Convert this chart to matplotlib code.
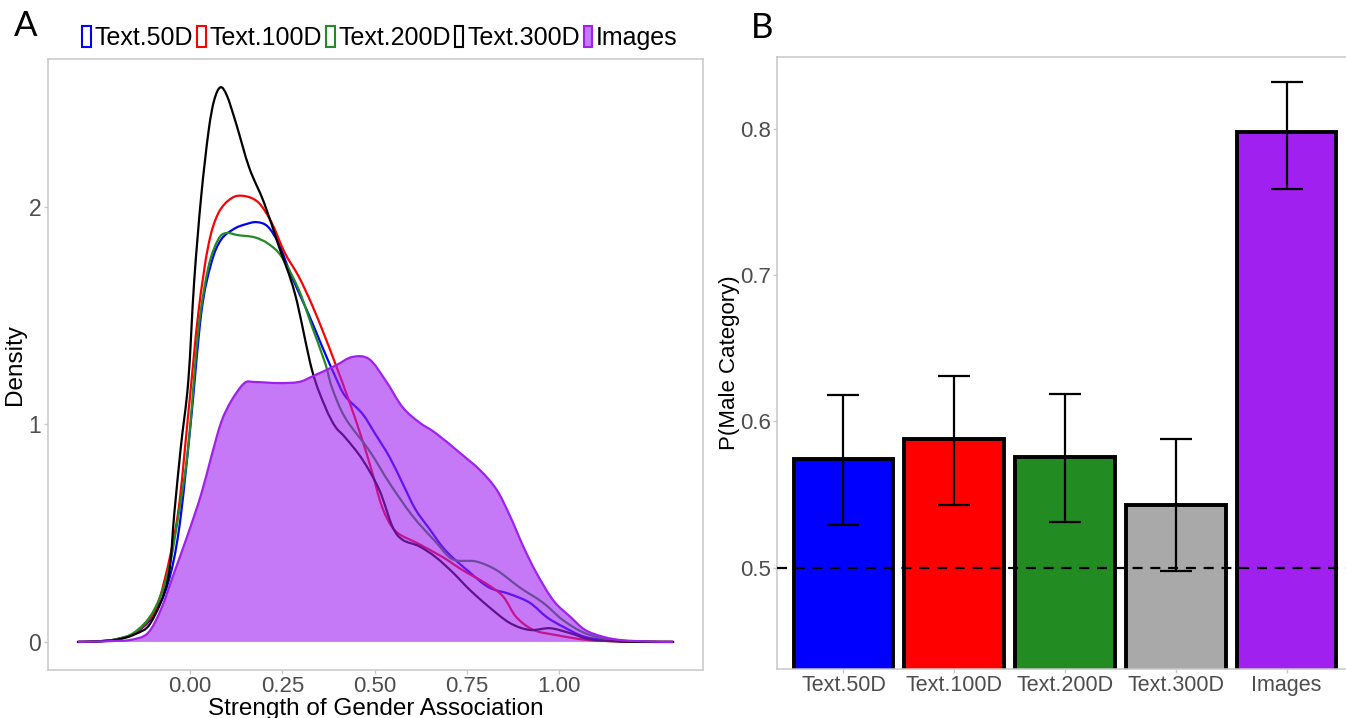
import matplotlib
matplotlib.use("Agg")
import matplotlib.pyplot as plt
from matplotlib.patches import Patch, PathPatch
from matplotlib.path import Path

plt.rcParams['font.family'] = ['Liberation Sans', 'DejaVu Sans']

# ---------------- Panel A data (density curves) ----------------
series_names = ["Text.50D", "Text.100D", "Text.200D", "Text.300D", "Images"]
series_colors = ["#0000FF", "#FF0000", "#228B22", "#000000", "#A020F0"]

x_50 = [-0.304, -0.25, -0.2, -0.15, -0.1, -0.06, -0.03, 0.0, 0.03, 0.057, 0.084, 0.12, 0.15,
        0.18, 0.21, 0.24, 0.275, 0.32, 0.357, 0.393, 0.42, 0.466, 0.5, 0.54, 0.575, 0.61,
        0.648, 0.692, 0.757, 0.81, 0.866, 0.92, 0.965, 1.01, 1.07, 1.15, 1.22, 1.308]
y_50 = [0, 0.003, 0.012, 0.04, 0.12, 0.27, 0.52, 0.98, 1.51, 1.74, 1.85, 1.90, 1.92,
        1.93, 1.91, 1.83, 1.68, 1.51, 1.36, 1.22, 1.13, 1.05, 0.96, 0.85, 0.73, 0.61,
        0.52, 0.42, 0.32, 0.25, 0.22, 0.18, 0.115, 0.07, 0.023, 0.005, 0.001, 0]

x_100 = [-0.304, -0.25, -0.2, -0.15, -0.1, -0.07, -0.033, -0.005, 0.022, 0.049, 0.076, 0.112,
         0.147, 0.185, 0.22, 0.256, 0.294, 0.33, 0.366, 0.393, 0.43, 0.466, 0.493, 0.52, 0.556,
         0.62, 0.684, 0.738, 0.80, 0.847, 0.883, 0.93, 0.99, 1.07, 1.15, 1.22, 1.308]
y_100 = [0, 0.003, 0.012, 0.04, 0.13, 0.28, 0.59, 1.05, 1.51, 1.82, 1.97, 2.04,
         2.05, 2.02, 1.93, 1.79, 1.68, 1.55, 1.40, 1.28, 1.11, 0.93, 0.78, 0.62, 0.51,
         0.45, 0.39, 0.33, 0.27, 0.21, 0.115, 0.055, 0.032, 0.01, 0.003, 0.001, 0]

x_200 = [-0.304, -0.25, -0.2, -0.15, -0.1, -0.06, -0.03, -0.005, 0.022, 0.049, 0.076, 0.098,
         0.13, 0.175, 0.212, 0.248, 0.294, 0.33, 0.366, 0.384, 0.42, 0.485, 0.54, 0.602,
         0.665, 0.711, 0.774, 0.83, 0.893, 0.956, 1.01, 1.07, 1.14, 1.22, 1.308]
y_200 = [0, 0.003, 0.013, 0.045, 0.14, 0.32, 0.60, 0.90, 1.43, 1.72, 1.85, 1.88,
         1.87, 1.86, 1.83, 1.77, 1.62, 1.45, 1.28, 1.17, 1.03, 0.88, 0.73, 0.58,
         0.46, 0.38, 0.37, 0.33, 0.25, 0.18, 0.10, 0.04, 0.01, 0.002, 0]

x_300 = [-0.304, -0.25, -0.2, -0.15, -0.106, -0.06, -0.043, -0.025, -0.005, 0.011, 0.03, 0.05,
         0.065, 0.082, 0.1, 0.125, 0.16, 0.2, 0.24, 0.284, 0.33, 0.366, 0.393, 0.42, 0.466,
         0.512, 0.548, 0.575, 0.62, 0.665, 0.711, 0.757, 0.81, 0.866, 0.92, 0.975, 1.03, 1.09,
         1.2, 1.308]
y_300 = [0, 0.002, 0.01, 0.035, 0.09, 0.29, 0.59, 0.90, 1.20, 1.66, 2.05, 2.35,
         2.49, 2.55, 2.51, 2.38, 2.18, 2.02, 1.82, 1.60, 1.25, 1.08, 0.99, 0.94, 0.84,
         0.70, 0.53, 0.47, 0.44, 0.39, 0.32, 0.24, 0.16, 0.087, 0.055, 0.063, 0.04, 0.01,
         0.001, 0]

x_img = [-0.304, -0.25, -0.2, -0.16, -0.115, -0.079, -0.043, -0.005, 0.03, 0.057, 0.084, 0.112,
         0.147, 0.175, 0.24, 0.294, 0.33, 0.393, 0.439, 0.485, 0.53, 0.575, 0.62, 0.665, 0.73,
         0.785, 0.83, 0.866, 0.902, 0.937, 0.984, 1.03, 1.07, 1.12, 1.17, 1.24, 1.308]
y_img = [0, 0.002, 0.005, 0.01, 0.04, 0.15, 0.32, 0.50, 0.68, 0.85, 1.01, 1.11,
         1.19, 1.195, 1.19, 1.195, 1.22, 1.27, 1.31, 1.30, 1.20, 1.08, 1.01, 0.96, 0.87,
         0.79, 0.70, 0.58, 0.44, 0.32, 0.19, 0.115, 0.055, 0.023, 0.008, 0.002, 0]

xticks_A = [0.0, 0.25, 0.5, 0.75, 1.0]
xtick_labels_A = ["0.00", "0.25", "0.50", "0.75", "1.00"]
yticks_A = [0, 1, 2]

# ---------------- Panel B data ----------------
categories = ["Text.50D", "Text.100D", "Text.200D", "Text.300D", "Images"]
p_male = [0.574, 0.588, 0.576, 0.543, 0.798]
ci_low = [0.529, 0.543, 0.531, 0.498, 0.759]
ci_high = [0.618, 0.631, 0.619, 0.588, 0.832]
bar_colors = ["#0000FF", "#FF0000", "#228B22", "#A9A9A9", "#A020F0"]
yticks_B = [0.5, 0.6, 0.7, 0.8]
chance = 0.5

W, H = 1346, 718
fig = plt.figure(figsize=(W / 100, H / 100), dpi=100)
fig.patch.set_facecolor("white")

border = "#C8C8C8"
tick_col = "#4D4D4D"


def style(ax):
    for s in ax.spines.values():
        s.set_color(border)
        s.set_linewidth(1.1)
    ax.tick_params(colors=border, labelcolor=tick_col, length=3, width=1,
                   labelsize=15.5)


def smooth_path(xs, ys, closed_to_zero=False):
    """Draw a polyline through the read points as smooth Bezier segments."""
    pts = list(zip(xs, ys))
    verts = [pts[0]]
    codes = [Path.MOVETO]
    n = len(pts)
    for i in range(n - 1):
        p0 = pts[i - 1] if i > 0 else pts[i]
        p1 = pts[i]
        p2 = pts[i + 1]
        p3 = pts[i + 2] if i + 2 < n else pts[i + 1]
        c1 = (p1[0] + (p2[0] - p0[0]) / 6.0, p1[1] + (p2[1] - p0[1]) / 6.0)
        c2 = (p2[0] - (p3[0] - p1[0]) / 6.0, p2[1] - (p3[1] - p1[1]) / 6.0)
        verts += [c1, c2, p2]
        codes += [Path.CURVE4] * 3
    if closed_to_zero:
        verts += [(xs[-1], 0), (xs[0], 0), (xs[0], 0)]
        codes += [Path.LINETO, Path.LINETO, Path.CLOSEPOLY]
    return Path(verts, codes)


# ---------------- Panel A ----------------
axA = fig.add_axes([48 / W, (H - 670) / H, (703 - 48) / W, (670 - 59) / H])
style(axA)
purple = (160 / 255, 32 / 255, 240 / 255)
for xs, ys, c in [(x_50, y_50, series_colors[0]), (x_100, y_100, series_colors[1]),
                  (x_200, y_200, series_colors[2]), (x_300, y_300, series_colors[3])]:
    axA.add_patch(PathPatch(smooth_path(xs, ys), facecolor="none", edgecolor=c,
                            lw=1.6, zorder=2, capstyle="round", joinstyle="round"))
axA.add_patch(PathPatch(smooth_path(x_img, y_img, closed_to_zero=True),
                        facecolor=purple + (0.6,), edgecolor="none", zorder=3))
axA.add_patch(PathPatch(smooth_path(x_img, y_img), facecolor="none",
                        edgecolor=series_colors[4], lw=1.6, zorder=4))
axA.set_xlim(-0.385, 1.389)
axA.set_ylim(-0.129, 2.68)
axA.set_xticks(xticks_A)
axA.set_xticklabels(xtick_labels_A)
axA.set_yticks(yticks_A)
axA.tick_params(axis="x", pad=1.5, labelsize=16)
axA.tick_params(axis="y", pad=2, labelsize=16.5)
axA.set_xlabel("Strength of Gender Association", fontsize=17.5, color="black")
axA.xaxis.set_label_coords(0.5, -0.046)
axA.set_ylabel("Density", fontsize=17.5, color="black")
axA.yaxis.set_label_coords((26 - 48) / (703 - 48), 0.5)

# ---------------- Panel B ----------------
axB = fig.add_axes([777 / W, (H - 669) / H, (1353 - 777) / W, (669 - 57) / H])
style(axB)
pos = list(range(len(categories)))
axB.bar(pos, p_male, width=0.9, color=bar_colors, edgecolor="black", linewidth=2.8, zorder=2)
axB.axhline(chance, color="black", lw=1.6, ls=(0, (4.5, 3.5)), zorder=3)
err_lo = [p - l for p, l in zip(p_male, ci_low)]
err_hi = [h - p for p, h in zip(p_male, ci_high)]
axB.errorbar(pos, p_male, yerr=[err_lo, err_hi], fmt="none", ecolor="black",
             elinewidth=1.6, capsize=11.5, capthick=1.6, zorder=4)
axB.set_xlim(-0.6, 4.6)
axB.set_ylim(0.4308, 0.849)
axB.set_yticks(yticks_B)
axB.set_yticklabels([f"{v:.1f}" for v in yticks_B])
axB.set_xticks(pos)
axB.set_xticklabels(categories)
axB.tick_params(axis="x", pad=1.5, labelsize=15.5)
axB.tick_params(axis="y", pad=1.5, labelsize=16)
axB.set_ylabel("P(Male Category)", fontsize=16, color="black")
axB.yaxis.set_label_coords((740 - 777) / (1353 - 777), 0.5)

# ---------------- Legend ----------------
handles = [Patch(facecolor="none", edgecolor=c, linewidth=1.5) for c in series_colors[:4]]
handles.append(Patch(facecolor=purple + (0.6,), edgecolor=series_colors[4], linewidth=1.5))
fig.legend(handles, series_names, loc="center", bbox_to_anchor=(380 / W, 1 - 38 / H),
           ncol=5, frameon=False, fontsize=18, handlelength=0.35, handleheight=0.95,
           handletextpad=0.15, columnspacing=0.15, borderpad=0)

# ---------------- Panel letters ----------------
fig.text(26 / W, 1 - 26 / H, "A", fontsize=25, ha="center", va="center",
         family=["Lato", "DejaVu Sans"])
fig.text(762 / W, 1 - 28 / H, "B", fontsize=25, ha="center", va="center",
         family=["Lato", "DejaVu Sans"])

fig.savefig("out.png", dpi=100)
